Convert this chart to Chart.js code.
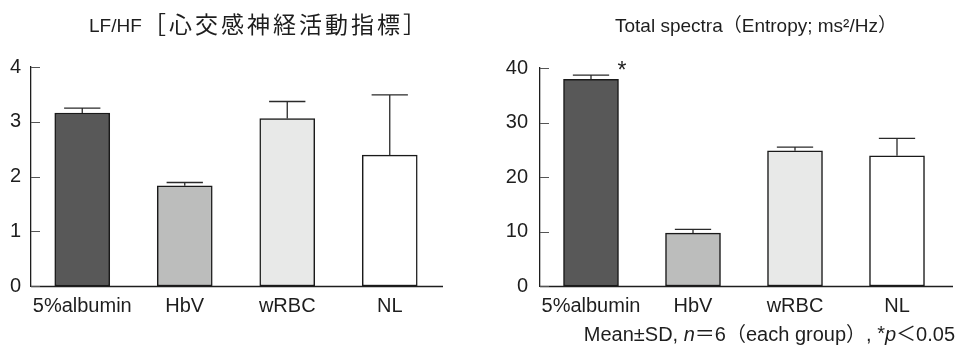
<!DOCTYPE html>
<html>
<head>
<meta charset="utf-8">
<script src="https://cdn.jsdelivr.net/npm/chart.js@4.4.1/dist/chart.umd.min.js"></script>
<style>
html, body { margin:0; padding:0; background:#fff; }
#wrap { position:relative; width:961px; height:345px; overflow:hidden; }
canvas { position:absolute; top:0; }
</style>
</head>
<body>
<div id="wrap">
  <canvas id="lfhf" width="480" height="345" style="left:0"></canvas>
  <canvas id="total" width="481" height="345" style="left:480px"></canvas>
</div>
<script>
// ---------- data ----------
const groups     = ['5%albumin', 'HbV', 'wRBC', 'NL'];
const barColors  = ['#585858', '#bcbdbc', '#e8e9e8', '#ffffff'];

const lfhfMean   = [3.16, 1.83, 3.06, 2.39];
const lfhfSD     = [0.09, 0.06, 0.31, 1.10];
const lfhfTicks  = [0, 1, 2, 3, 4];
const lfhfSig    = [false, false, false, false];

const totalMean  = [37.9, 9.7, 24.8, 23.9];
const totalSD    = [0.8, 0.7, 0.7, 3.2];
const totalTicks = [0, 10, 20, 30, 40];
const totalSig   = [true, false, false, false];

const INK   = '#1e1e1e';
const LATIN = "'Liberation Sans', Arial, Helvetica, sans-serif";
const MIXED = "'Liberation Sans', 'Noto Sans CJK JP', sans-serif";
const JP    = "'Noto Sans CJK JP', 'Liberation Sans', sans-serif";

// ---------- drawing helpers ----------
function drawSpaced(ctx, text, x, y, spacing) {
  for (const ch of text) {
    ctx.fillText(ch, x, y);
    x += ctx.measureText(ch).width + spacing;
  }
}

const deco = {
  id: 'deco',
  afterDatasetsDraw(chart, args, o) {
    const ctx = chart.ctx, y = chart.scales.y, area = chart.chartArea;
    const ds = chart.data.datasets[0];
    const bars = chart.getDatasetMeta(0).data;
    const base = Math.round(y.getPixelForValue(0)) + 0.5;
    ctx.save();

    // x axis line (runs a little past the last category)
    ctx.strokeStyle = INK; ctx.lineWidth = 1.3;
    ctx.beginPath();
    ctx.moveTo(area.left, base); ctx.lineTo(area.right + o.axisExtra, base);
    ctx.stroke();

    // tick marks pointing into the plot
    ctx.strokeStyle = '#555'; ctx.lineWidth = 1.2;
    ctx.beginPath();
    y.ticks.forEach(t => {
      const py = Math.round(y.getPixelForValue(t.value)) + 0.5;
      ctx.moveTo(area.left, py); ctx.lineTo(area.left + 9, py);
    });
    ctx.stroke();

    // error bars (mean + SD only) and significance marks
    ctx.strokeStyle = '#2a2a2a'; ctx.lineWidth = 1.3;
    bars.forEach((b, i) => {
      const top = y.getPixelForValue(ds.data[i] + ds.sd[i]);
      const half = b.width * 0.33;
      ctx.beginPath();
      ctx.moveTo(b.x, b.y); ctx.lineTo(b.x, top);
      ctx.moveTo(b.x - half, top); ctx.lineTo(b.x + half, top);
      ctx.stroke();
      if (ds.sig[i]) {
        ctx.fillStyle = INK;
        ctx.font = '23px ' + LATIN;
        ctx.textAlign = 'left'; ctx.textBaseline = 'alphabetic';
        ctx.fillText('*', b.x + b.width / 2 - 1, top + 3);
      }
    });
    ctx.restore();
  },
  afterDraw(chart, args, o) {
    const ctx = chart.ctx;
    ctx.save();
    ctx.fillStyle = INK;
    ctx.textBaseline = 'alphabetic';
    ctx.textAlign = 'left';
    (o.title || []).forEach(p => {
      ctx.font = p.font;
      if (p.spacing) drawSpaced(ctx, p.text, p.x, p.y, p.spacing);
      else ctx.fillText(p.text, p.x, p.y);
    });
    if (o.note) {
      const segs = o.note.parts;
      let w = 0;
      segs.forEach(s => { ctx.font = s.font; w += ctx.measureText(s.text).width; });
      let x = o.note.right - w;
      segs.forEach(s => {
        ctx.font = s.font;
        ctx.fillText(s.text, x, o.note.y - (s.rise || 0));
        x += ctx.measureText(s.text).width;
      });
    }
    ctx.restore();
  }
};

function makeChart(id, mean, sd, sig, ticks, cfg) {
  return new Chart(document.getElementById(id), {
    type: 'bar',
    data: {
      labels: groups,
      datasets: [{
        data: mean, sd: sd, sig: sig,
        backgroundColor: barColors,
        borderColor: '#1a1a1a',
        borderWidth: 1.5,
        borderSkipped: false,
        barThickness: 55
      }]
    },
    options: {
      responsive: false,
      animation: false,
      events: [],
      layout: { padding: { top: cfg.top, right: cfg.right, left: 0, bottom: 0 } },
      scales: {
        x: {
          offset: true,
          grid: { display: false, drawTicks: false },
          border: { display: false },
          ticks: { color: INK, font: { family: LATIN, size: 20 }, padding: 8, maxRotation: 0 },
          afterFit: s => { s.height = 59; }
        },
        y: {
          min: 0, max: ticks[ticks.length - 1],
          grid: { display: false, drawTicks: false },
          border: { display: true, color: INK, width: 1.3 },
          ticks: { color: INK, font: { family: LATIN, size: 20 }, padding: cfg.tickPad },
          afterBuildTicks: s => { s.ticks = ticks.map(v => ({ value: v })); },
          afterFit: s => { s.width = cfg.yWidth; }
        }
      },
      plugins: {
        legend: { display: false },
        tooltip: { enabled: false },
        deco: { axisExtra: cfg.axisExtra, title: cfg.title, note: cfg.note }
      }
    },
    plugins: [deco]
  });
}

makeChart('lfhf', lfhfMean, lfhfSD, lfhfSig, lfhfTicks, {
  top: 67, right: 39, yWidth: 31, tickPad: 10, axisExtra: 2,
  title: [
    { text: 'LF/HF', x: 89, y: 32, font: '19px ' + LATIN },
    { text: '［心交感神経活動指標］', x: 143, y: 33, font: '23px ' + JP, spacing: 3 }
  ]
});

makeChart('total', totalMean, totalSD, totalSig, totalTicks, {
  top: 68, right: 13, yWidth: 60, tickPad: 12, axisExtra: 5,
  title: [
    { text: 'Total spectra（Entropy; ms²/Hz）', x: 135, y: 32, font: '19px ' + MIXED }
  ],
  note: {
    right: 475, y: 341,
    parts: [
      { text: 'Mean±SD, ', font: '20px ' + LATIN },
      { text: 'n', font: 'italic 20px ' + LATIN },
      { text: '＝6（each group）, ', font: '20px ' + MIXED },
      { text: '*', font: '20px ' + LATIN, rise: 1 },
      { text: 'p', font: 'italic 20px ' + LATIN },
      { text: '＜0.05', font: '20px ' + MIXED }
    ]
  }
});
</script>
</body>
</html>
